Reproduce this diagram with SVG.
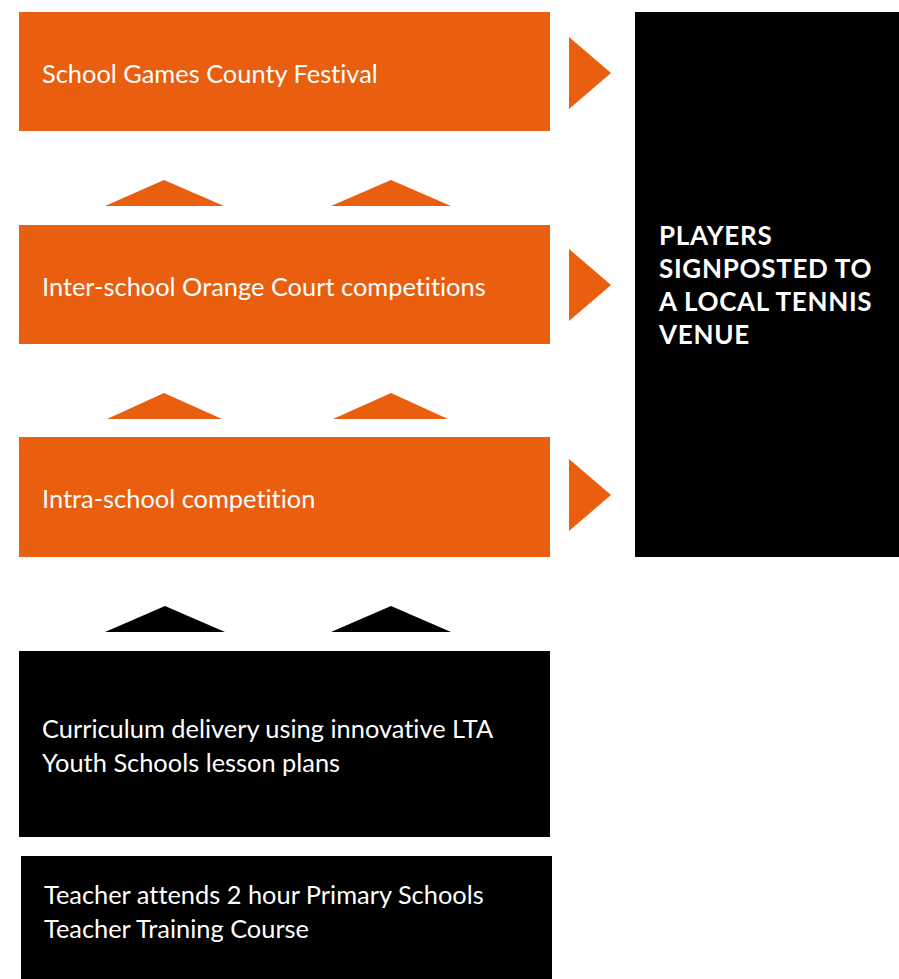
<svg xmlns="http://www.w3.org/2000/svg" width="899" height="979" viewBox="0 0 899 979">
<style>
.o{fill:#E95E0F}
.k{fill:#000}
.t{font-family:Lato,"Noto Sans",sans-serif;font-size:25.4px;fill:#fff;font-variant-ligatures:none;font-feature-settings:"liga" 0}
.b{font-family:Lato,"Noto Sans",sans-serif;font-size:26px;font-weight:bold;fill:#fff;letter-spacing:0.7px}
</style>
<rect width="899" height="979" fill="#fff"/>
<g id="festival"><rect class="o" x="19" y="12" width="531" height="119"/><text class="t" x="42" y="83">School Games County Festival</text></g>
<g id="inter"><rect class="o" x="19" y="225" width="531" height="119"/><text class="t" x="42" y="296">Inter-school Orange Court competitions</text></g>
<g id="intra"><rect class="o" x="19" y="437" width="531" height="120"/><text class="t" x="42" y="508">Intra-school competition</text></g>
<g id="curriculum"><rect class="k" x="19" y="651" width="531" height="186"/><text class="t" x="42" y="738">Curriculum delivery using innovative LTA</text><text class="t" x="42" y="772">Youth Schools lesson plans</text></g>
<g id="teacher"><rect class="k" x="21" y="856" width="531" height="123"/><text class="t" x="44" y="904">Teacher attends 2 hour Primary Schools</text><text class="t" x="44" y="938">Teacher Training Course</text></g>
<g id="venue"><rect class="k" x="635" y="12" width="264" height="545"/><text class="b" x="659" y="245">PLAYERS</text><text class="b" x="659" y="278">SIGNPOSTED TO</text><text class="b" x="659" y="311">A LOCAL TENNIS</text><text class="b" x="659" y="344">VENUE</text></g>
<g id="connectors">
<polygon class="o" points="105,206 164,180 224,206"/>
<polygon class="o" points="331,206 391,180 451,206"/>
<polygon class="o" points="107,419 164,393 222,419"/>
<polygon class="o" points="333,419 391,393 448,419"/>
<polygon class="k" points="105,632 165,606 225,632"/>
<polygon class="k" points="331,632 391,606 451,632"/>
<polygon class="o" points="569,37 611,73 569,109"/>
<polygon class="o" points="569,249 611,285 569,321"/>
<polygon class="o" points="569,459 611,495 569,531"/>
</g>
</svg>
